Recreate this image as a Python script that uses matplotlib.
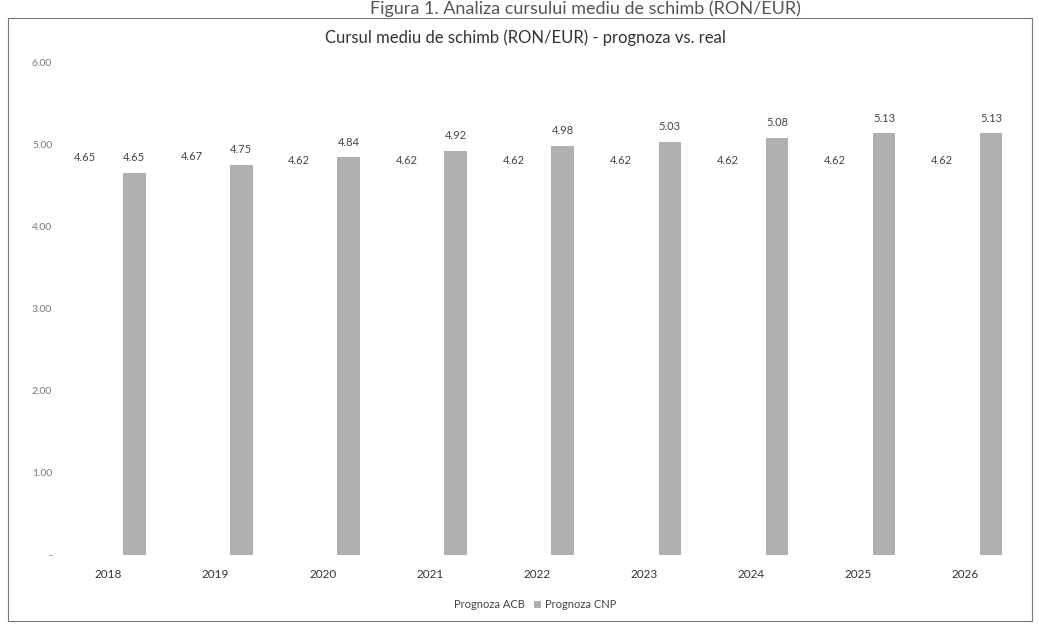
import matplotlib
matplotlib.use("Agg")
import matplotlib.pyplot as plt
from matplotlib.patches import Rectangle
import numpy as np

plt.rcParams['font.family'] = ['Lato', 'DejaVu Sans']

years = ["2018", "2019", "2020", "2021", "2022", "2023", "2024", "2025", "2026"]
acb = [4.65, 4.67, 4.62, 4.62, 4.62, 4.62, 4.62, 4.62, 4.62]
cnp = [4.65, 4.75, 4.84, 4.92, 4.98, 5.03, 5.08, 5.13, 5.13]
acb_labels = ["4.65", "4.67", "4.62", "4.62", "4.62", "4.62", "4.62", "4.62", "4.62"]
cnp_labels = ["4.65", "4.75", "4.84", "4.92", "4.98", "5.03", "5.08", "5.13", "5.13"]
yticks = [0, 1, 2, 3, 4, 5, 6]
ytick_labels = ["-", "1.00", "2.00", "3.00", "4.00", "5.00", "6.00"]

W, H = 1039, 628
fig = plt.figure(figsize=(W / 100, H / 100), dpi=100)
fig.patch.set_facecolor("white")

ax = fig.add_axes([55 / W, 1 - 555 / H, 964 / W, (555 - 62) / H])
x = np.arange(len(years))
off = 0.22
bw = 0.21
ax.bar(x - off, acb, bw, color="white", label="Prognoza ACB")
ax.bar(x + off + 0.02, cnp, bw, color="#b0b0b0", label="Prognoza CNP")

for xi, v, t in zip(x - off, acb, acb_labels):
    ax.annotate(t, (xi, v), xytext=(0, 7), textcoords="offset points",
                ha="center", va="bottom", fontsize=8, color="#444444")
for xi, v, t in zip(x + off + 0.02, cnp, cnp_labels):
    ax.annotate(t, (xi, v), xytext=(0, 7), textcoords="offset points",
                ha="center", va="bottom", fontsize=8, color="#444444")

ax.set_xlim(-0.5, len(years) - 0.5)
ax.set_ylim(0, 6)
ax.set_yticks(yticks)
ax.set_yticklabels(ytick_labels, fontsize=7.5, color="#777777")
ax.set_xticks(x)
ax.set_xticklabels(years, fontsize=8.5, color="#333333")
ax.tick_params(axis="both", length=0)
ax.tick_params(axis="y", pad=2)
ax.tick_params(axis="x", pad=10)
for s in ax.spines.values():
    s.set_visible(False)

ax.legend(loc="center", bbox_to_anchor=(0.51, 1 - 605 / H), bbox_transform=fig.transFigure,
          ncol=2, frameon=False, fontsize=8, handlelength=0.6, handleheight=0.6,
          columnspacing=0.8, handletextpad=0.4, labelcolor="#444444")

fig.text(525 / W, 1 - 38 / H, "Cursul mediu de schimb (RON/EUR) - prognoza vs. real",
         ha="center", va="center", fontsize=12, color="#333333")
fig.text(585 / W, 0.999, "Figura 1. Analiza cursului mediu de schimb (RON/EUR)",
         ha="center", va="top", fontsize=13, color="#555555")

fig.add_artist(Rectangle((8 / W, 1 - 621 / H), (1032 - 8) / W, (621 - 18) / H,
                         transform=fig.transFigure, fill=False, edgecolor="#777777", lw=0.8))

fig.savefig("out.png", dpi=100, facecolor="white")
